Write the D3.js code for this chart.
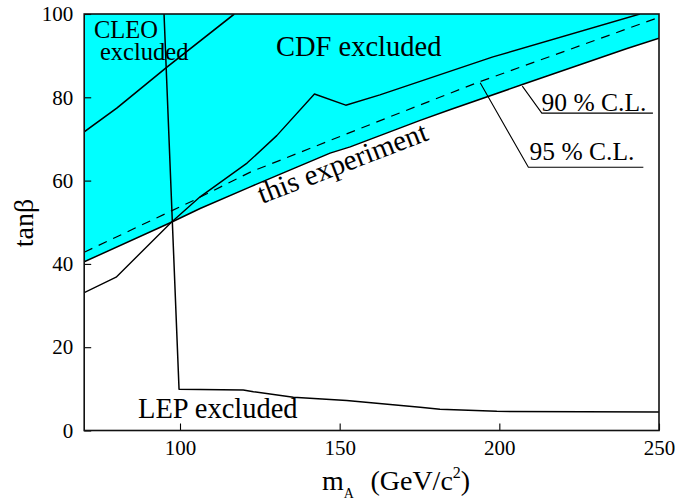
<!DOCTYPE html>
<html>
<head>
<meta charset="utf-8">
<script src="https://cdn.jsdelivr.net/npm/d3@7"></script>
<style>
  html, body { margin: 0; padding: 0; background: #fff; }
  svg { display: block; }
  text { font-family: "Liberation Serif", "Times New Roman", serif; fill: #000; }
</style>
</head>
<body>
<svg id="chart" width="675" height="501"></svg>
<script>
// Exclusion limits in the (m_A, tan beta) plane
const xTicks = [100, 150, 200, 250];
const yTicks = [0, 20, 40, 60, 80, 100];

// 90 % C.L. limit of this experiment (lower edge of the excluded band)
const limit90 = [[70, 40.5], [97.3, 50], [106.3, 53.3], [122, 58.5], [147, 66.6],
                 [153.3, 68.1], [175, 74.4], [184.5, 77], [207, 83], [240, 91.7], [250, 94.2]];
// 95 % C.L. limit of this experiment (dashed)
const limit95 = [[70, 42.8], [104.4, 55.3], [122.2, 62.1], [161, 73.9], [193, 83.5], [250, 99.2]];
// CDF exclusion contour
const cdfLimit = [[70, 33.1], [80, 36.8], [97.3, 50], [106.3, 56.1], [121, 64.2], [130.3, 70.8],
                  [142.1, 80.8], [151.9, 78.1], [162.6, 80.6], [198, 89.7], [244, 100]];
// CLEO exclusion contour
const cleoLimit = [[70, 71.7], [80.2, 77.4], [96, 87.3], [117, 100]];
// LEP exclusion contour
const lepLimit = [[95, 100], [99.7, 9.9], [119.8, 9.7], [123, 9.3], [135.5, 8.0], [152.2, 7.2],
                  [175.2, 5.6], [181.4, 5.1], [199.2, 4.6], [250, 4.45]];

// Pointer lines for the C.L. labels
const pointer90 = [[207.2, 82.7], [213.3, 76.2], [248.1, 76.2]];
const pointer95 = [[194.0, 83.5], [209.1, 63.2], [245.1, 63.2]];

const svg = d3.select("#chart");
const plotLeft = 84.2, plotRight = 659, plotTop = 14, plotBottom = 430.5;

const x = d3.scaleLinear().domain([70, 250]).range([plotLeft, plotRight]);
const y = d3.scaleLinear().domain([0, 100]).range([plotBottom, plotTop]);

svg.append("defs").append("clipPath").attr("id", "plot")
  .append("rect").attr("x", plotLeft).attr("y", plotTop)
  .attr("width", plotRight - plotLeft).attr("height", plotBottom - plotTop);

const g = svg.append("g").attr("clip-path", "url(#plot)");

// excluded band: everything above the 90 % C.L. line
const band = d3.area()
  .x(d => x(d[0]))
  .y0(() => y(100))
  .y1(d => y(d[1]));
g.append("path").datum(limit90).attr("d", band).attr("fill", "#00ffff");

const line = d3.line().x(d => x(d[0])).y(d => y(d[1]));

function curve(data, opts = {}) {
  g.append("path").datum(data)
    .attr("d", line)
    .attr("fill", "none")
    .attr("stroke", "#000")
    .attr("stroke-width", opts.w || 1.4)
    .attr("stroke-linejoin", "round")
    .attr("stroke-dasharray", opts.dash || null);
}

curve(limit90, { w: 1.5 });
curve(limit95, { w: 1.2, dash: "9,7" });
curve(cdfLimit, { w: 1.4 });
curve(cleoLimit, { w: 1.6 });
curve(lepLimit, { w: 1.5 });
curve(pointer90, { w: 1.1 });
curve(pointer95, { w: 1.1 });

// axes with inward ticks
const xAxis = d3.axisBottom(x).tickValues(xTicks).tickSize(-7).tickPadding(9.5)
  .tickFormat(d3.format("d"));
const yAxis = d3.axisLeft(y).tickValues(yTicks).tickSize(-7).tickPadding(11)
  .tickFormat(d3.format("d"));

const gx = svg.append("g").attr("transform", `translate(0,${plotBottom})`).call(xAxis);
const gy = svg.append("g").attr("transform", `translate(${plotLeft},0)`).call(yAxis);
[gx, gy].forEach(a => {
  a.select(".domain").remove();
  a.selectAll(".tick line").attr("stroke", "#000").attr("stroke-width", 1.1);
  a.selectAll(".tick text")
    .style("font-family", '"Liberation Serif", serif')
    .style("font-size", "21px")
    .attr("fill", "#000");
});

// frame
svg.append("rect")
  .attr("x", plotLeft).attr("y", plotTop)
  .attr("width", plotRight - plotLeft).attr("height", plotBottom - plotTop)
  .attr("fill", "none").attr("stroke", "#111").attr("stroke-width", 1.6);

// region labels
function label(txt, px, py, size) {
  return svg.append("text").attr("x", px).attr("y", py)
    .style("font-size", size + "px").text(txt);
}
label("CLEO", 94, 38, 24.5);
label("excluded", 100, 59.5, 24.5);
label("CDF excluded", 276, 56, 28.5);
label("LEP excluded", 138, 417.7, 28.5);
label("90 % C.L.", 541.5, 111, 25.5);
label("95 % C.L.", 529.5, 159.5, 25.5);
svg.append("text")
  .attr("transform", "translate(262,204) rotate(-21)")
  .style("font-size", "29px")
  .text("this experiment");

// axis titles
svg.append("text")
  .attr("transform", "translate(33,223) rotate(-90)")
  .attr("text-anchor", "middle")
  .style("font-size", "28px")
  .text("tanβ");

const xt = svg.append("text").attr("x", 322).attr("y", 490).style("font-size", "28px");
xt.append("tspan").text("m");
xt.append("tspan").attr("dy", 8).style("font-size", "14px").text("A");
xt.append("tspan").attr("dx", 16.5).attr("dy", -8).text("(GeV/c");
xt.append("tspan").attr("dy", -12).style("font-size", "16px").text("2");
xt.append("tspan").attr("dy", 12).text(")");
</script>
</body>
</html>
